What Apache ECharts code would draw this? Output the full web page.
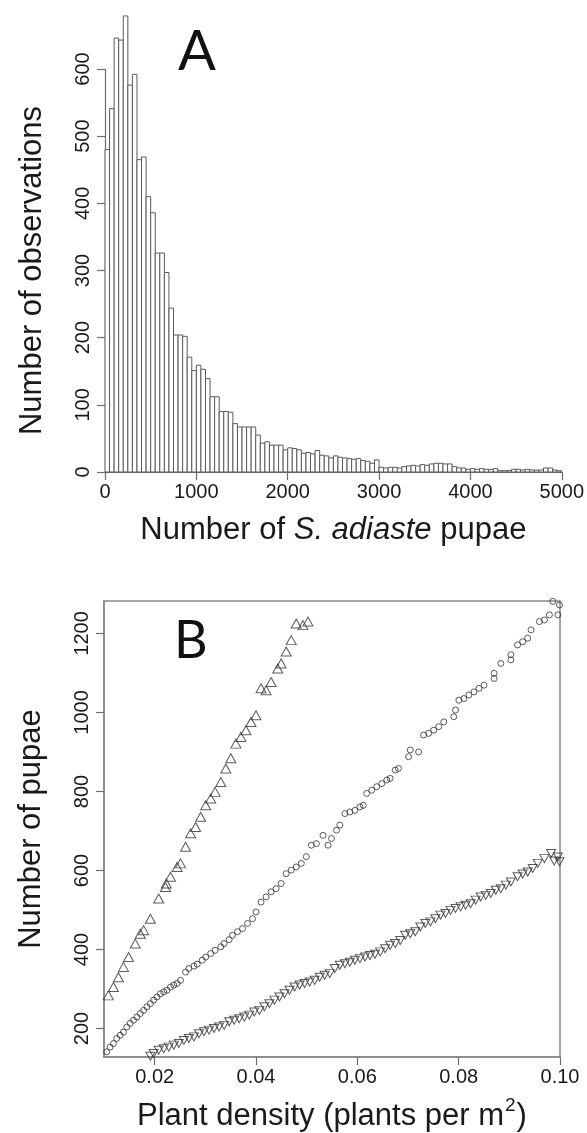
<!DOCTYPE html>
<html>
<head>
<meta charset="utf-8">
<script src="https://cdn.jsdelivr.net/npm/echarts@6/dist/echarts.min.js"></script>
<style>
html,body{margin:0;padding:0;background:#fff;}
#chart{width:587px;height:1133px;}
</style>
</head>
<body>
<div id="chart"></div>
<script>
// ---------- Panel A: histogram (bins of 50 pupae, 0..5000) ----------
const binSize = 50;
const histCounts = [
  480, 541, 646, 643, 679, 576, 592, 465, 469, 410,
  386, 326, 326, 297, 244, 204, 204, 202, 171, 151,
  159, 153, 139, 112, 112, 90, 90, 89, 72, 67,
  67, 67, 67, 55, 43, 45, 40, 40, 40, 33,
  36, 35, 33, 28, 29, 27, 32, 25, 24, 21,
  24, 22, 21, 20, 19, 20, 17, 16, 13, 18,
  7, 6, 7, 7, 6, 8, 9, 10, 9, 11,
  10, 12, 13, 13, 12, 12, 8, 6, 6, 4,
  5, 4, 5, 4, 4, 5, 2, 2, 2, 4,
  4, 3, 4, 3, 3, 3, 6, 6, 3, 2
];
const histXTicks = [0, 1000, 2000, 3000, 4000, 5000];
const histYTicks = [0, 100, 200, 300, 400, 500, 600];

// ---------- Panel B: pupae vs plant density ----------
const upTriangles = [
  [0.00995,254],[0.01086,284],[0.01186,305],[0.01285,330],[0.01384,356],[0.01484,381],
  [0.01617,415],[0.01716,440],[0.01782,449],[0.01915,478],[0.0208,529],[0.02213,558],
  [0.02230,567],[0.02312,584],[0.02443,609],[0.0251,618],[0.0261,660],[0.02709,694],
  [0.02808,710],[0.02908,736],[0.03007,765],[0.03106,782],[0.03192,799],[0.03305,824],
  [0.03404,858],[0.03503,884],[0.03603,921],[0.03702,938],[0.03801,955],[0.03901,976],
  [0.04,993],[0.04099,1061],[0.04199,1056],[0.04298,1077],[0.04429,1111],[0.04497,1124],
  [0.04596,1154],[0.04695,1183],[0.04794,1225],[0.04926,1221],[0.05025,1230]
];
const circles = [
  [0.01053,141],[0.0112,153],[0.01186,162],[0.01251,175],[0.01319,183],[0.01384,191],
  [0.0145,204],[0.01517,213],[0.01583,221],[0.01648,229],[0.01716,238],[0.01782,246],
  [0.01847,255],[0.01915,263],[0.0198,272],[0.02046,280],[0.02113,288],[0.02179,293],
  [0.02244,297],[0.02312,305],[0.02377,310],[0.02443,314],[0.0251,322],[0.0261,343],
  [0.02675,352],[0.02775,358],[0.0284,363],[0.02939,373],[0.03007,381],[0.03106,390],
  [0.03192,398],[0.03305,407],[0.0337,415],[0.0347,425],[0.03535,436],[0.03634,445],
  [0.03734,453],[0.03833,466],[0.03932,478],[0.04,495],[0.04099,520],[0.04199,533],
  [0.04298,546],[0.04397,554],[0.04496,567],[0.04596,592],[0.04695,601],[0.04794,609],
  [0.04894,618],[0.04993,635],[0.05092,664],[0.05192,668],[0.05323,689],[0.05422,664],
  [0.0549,681],[0.05589,702],[0.05655,715],[0.05754,744],[0.05853,748],[0.05952,752],
  [0.06051,761],[0.06117,765],[0.06184,795],[0.06284,803],[0.06383,812],[0.06482,820],
  [0.06582,829],[0.06647,833],[0.06747,854],[0.06812,858],[0.07011,888],[0.07044,905],
  [0.07209,900],[0.07309,943],[0.07408,947],[0.07507,955],[0.07606,964],[0.07706,976],
  [0.07904,989],[0.07938,1006],[0.08004,1031],[0.08103,1035],[0.08202,1044],[0.08302,1052],
  [0.08401,1061],[0.085,1069],[0.08699,1086],[0.08699,1099],[0.08832,1124],[0.0903,1133],
  [0.0903,1146],[0.09163,1171],[0.09263,1179],[0.09362,1188],[0.09428,1209],[0.09593,1230],
  [0.09692,1234],[0.09791,1247],[0.09859,1281],[0.09958,1247],[0.0999,1272]
];
const downTriangles = [
  [0.01915,130],[0.0198,137],[0.0208,145],[0.02179,149],[0.02278,153],[0.02377,158],
  [0.02477,162],[0.02576,170],[0.02675,175],[0.02775,179],[0.02874,187],[0.02973,192],
  [0.03072,196],[0.03172,200],[0.03271,204],[0.0337,208],[0.0347,217],[0.03569,221],
  [0.03668,225],[0.03768,229],[0.03867,234],[0.03966,242],[0.04065,246],[0.04165,255],
  [0.04264,263],[0.04363,272],[0.04463,280],[0.04562,288],[0.04661,297],[0.04761,305],
  [0.0486,310],[0.04959,314],[0.05058,318],[0.05158,322],[0.05257,330],[0.05356,335],
  [0.05456,339],[0.05555,352],[0.05654,360],[0.05754,364],[0.05853,368],[0.05952,373],
  [0.06051,377],[0.06151,381],[0.0625,385],[0.06349,388],[0.06449,394],[0.06548,402],
  [0.06647,411],[0.06747,415],[0.06846,423],[0.06945,436],[0.07044,440],[0.07144,445],
  [0.07243,457],[0.07342,466],[0.07442,470],[0.07541,478],[0.0764,487],[0.0774,491],
  [0.07839,499],[0.07938,504],[0.08037,508],[0.08137,512],[0.08236,516],[0.08335,525],
  [0.08435,533],[0.08534,537],[0.08633,542],[0.08733,550],[0.08832,554],[0.08931,563],
  [0.0903,571],[0.09163,584],[0.09263,591],[0.09362,596],[0.09461,605],[0.09561,618],
  [0.09692,630],[0.09825,643],[0.09885,624],[0.09958,634],[0.0999,622]
];
const densityTicks = [0.02, 0.04, 0.06, 0.08, 0.10];
const pupaeTicks = [200, 400, 600, 800, 1000, 1200];

// ---------- build ----------
const histData = histCounts.map((c, i) => [i * binSize, (i + 1) * binSize, c]);

const axisColor = '#6e6e6e';
const textColor = '#1a1a1a';
const tickFont = { fontFamily: 'Liberation Sans', fontSize: 20, color: textColor };
const titleFont = { fontFamily: 'Liberation Sans', fontSize: 31, color: textColor };
const plain = v => String(v);

const chart = echarts.init(document.getElementById('chart'), null, { renderer: 'canvas' });
chart.setOption({
  animation: false,
  backgroundColor: '#fff',
  title: [
    { text: 'A', left: 173, top: 19, textStyle: { fontFamily: 'Lato', fontWeight: 'normal', fontSize: 56, color: '#111' } },
    { text: 'B', left: 169, top: 610, textStyle: { fontFamily: 'Lato', fontWeight: 'normal', fontSize: 52, color: '#111' } }
  ],
  grid: [
    { left: 105, right: 25, top: 69, bottom: 661, show: false },
    { left: 104, right: 27, top: 601, bottom: 76, show: true, borderColor: '#888', borderWidth: 1.5, backgroundColor: 'transparent' }
  ],
  xAxis: [
    {
      gridIndex: 0, type: 'value', min: 0, max: 5000, interval: 1000,
      axisLine: { show: true, lineStyle: { color: axisColor, width: 1.2 } },
      axisTick: { show: true, length: 8, lineStyle: { color: axisColor, width: 1.2 } },
      axisLabel: Object.assign({ margin: 10, customValues: histXTicks, formatter: plain }, tickFont),
      splitLine: { show: false },
      name: '{n|Number of }{i|S. adiaste}{n| pupae}',
      nameLocation: 'middle', nameGap: 43,
      nameTextStyle: {
        rich: {
          n: Object.assign({}, titleFont),
          i: Object.assign({ fontStyle: 'italic' }, titleFont)
        }
      }
    },
    {
      gridIndex: 1, type: 'value', min: 0.01, max: 0.10,
      axisLine: { show: true, lineStyle: { color: '#888', width: 1.5 } },
      axisTick: { show: true, length: 8, customValues: densityTicks, lineStyle: { color: axisColor, width: 1.2 } },
      axisLabel: Object.assign({ margin: 10, customValues: densityTicks, formatter: v => v.toFixed(2) }, tickFont),
      splitLine: { show: false },
      name: '{n|Plant density (plants per m}{s|2}{n|)}',
      nameLocation: 'middle', nameGap: 39,
      nameTextStyle: {
        rich: {
          n: Object.assign({ lineHeight: 36, verticalAlign: 'bottom' }, titleFont),
          s: { fontFamily: 'Liberation Sans', fontSize: 19, color: textColor, verticalAlign: 'top', lineHeight: 36, padding: [0, 1, 14, 1] }
        }
      }
    }
  ],
  yAxis: [
    {
      gridIndex: 0, type: 'value', min: 0, max: 600, interval: 100,
      axisLine: { show: true, lineStyle: { color: axisColor, width: 1.2 } },
      axisTick: { show: true, length: 8, lineStyle: { color: axisColor, width: 1.2 } },
      axisLabel: Object.assign({ margin: 12, rotate: 90, customValues: histYTicks, formatter: plain }, tickFont),
      splitLine: { show: false },
      name: 'Number of observations', nameLocation: 'middle', nameGap: 57,
      nameTextStyle: titleFont
    },
    {
      gridIndex: 1, type: 'value', min: 128, max: 1282,
      axisLine: { show: true, lineStyle: { color: '#888', width: 1.5 } },
      axisTick: { show: true, length: 8, customValues: pupaeTicks, lineStyle: { color: axisColor, width: 1.2 } },
      axisLabel: Object.assign({ margin: 12, rotate: 90, customValues: pupaeTicks, formatter: plain }, tickFont),
      splitLine: { show: false },
      name: 'Number of pupae', nameLocation: 'middle', nameGap: 57,
      nameTextStyle: titleFont
    }
  ],
  series: [
    {
      type: 'custom', xAxisIndex: 0, yAxisIndex: 0, clip: false, silent: true,
      data: histData,
      encode: { x: [0, 1], y: 2 },
      renderItem: function (params, api) {
        const p0 = api.coord([api.value(0), api.value(2)]);
        const p1 = api.coord([api.value(1), 0]);
        return {
          type: 'rect',
          shape: { x: p0[0], y: p0[1], width: p1[0] - p0[0], height: p1[1] - p0[1] },
          style: { fill: '#fff', stroke: '#5a5a5a', lineWidth: 1 }
        };
      }
    },
    {
      type: 'scatter', xAxisIndex: 1, yAxisIndex: 1, silent: true,
      data: upTriangles, symbol: 'triangle', symbolSize: [10, 9],
      itemStyle: { color: 'rgba(255,255,255,0)', borderColor: '#333', borderWidth: 1 }
    },
    {
      type: 'scatter', xAxisIndex: 1, yAxisIndex: 1, silent: true,
      data: circles, symbol: 'circle', symbolSize: 6,
      itemStyle: { color: 'rgba(255,255,255,0)', borderColor: '#333', borderWidth: 1 }
    },
    {
      type: 'scatter', xAxisIndex: 1, yAxisIndex: 1, silent: true,
      data: downTriangles, symbol: 'triangle', symbolSize: [9, 8], symbolRotate: 180,
      itemStyle: { color: 'rgba(255,255,255,0)', borderColor: '#333', borderWidth: 1 }
    }
  ]
});
</script>
</body>
</html>
